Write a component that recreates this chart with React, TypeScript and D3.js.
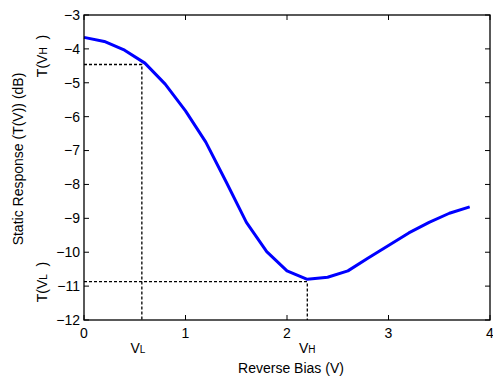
import { useEffect, useRef } from 'react'
import * as d3 from 'd3'

// reverse bias (V) vs static response (dB)
const biasV = [0, 0.2, 0.4, 0.6, 0.8, 1.0, 1.2, 1.4, 1.6, 1.8, 2.0, 2.2, 2.4, 2.6, 2.8, 3.0, 3.2, 3.4, 3.6, 3.8]
const responseDb = [-3.66, -3.78, -4.04, -4.42, -5.04, -5.83, -6.75, -7.92, -9.12, -9.98, -10.55, -10.8, -10.74, -10.55, -10.17, -9.8, -9.43, -9.12, -8.85, -8.66]

const xTicks = [0, 1, 2, 3, 4]
const yTicks = [-3, -4, -5, -6, -7, -8, -9, -10, -11, -12]

// operating points
const vL = 0.57
const vH = 2.2
const tVH = -4.46
const tVL = -10.87

const FONT = 'Liberation Sans, Arial, sans-serif'

export default function App() {
  const svgRef = useRef<SVGSVGElement>(null)

  useEffect(() => {
    if (!svgRef.current) return
    const svg = d3.select(svgRef.current)
    svg.selectAll('*').remove()

    const width = 493
    const height = 381
    const margin = { top: 15, right: 3, bottom: 61, left: 84 }
    const innerW = width - margin.left - margin.right
    const innerH = height - margin.top - margin.bottom

    const x = d3.scaleLinear().domain([0, 4]).range([0, innerW])
    const y = d3.scaleLinear().domain([-12, -3]).range([innerH, 0])

    const g = svg.append('g').attr('transform', `translate(${margin.left},${margin.top})`)

    // dashed guide lines
    const dash = g.append('g')
      .attr('fill', 'none')
      .attr('stroke', '#000')
      .attr('stroke-width', 1.3)
      .attr('stroke-dasharray', '3,2')
    dash.append('path').attr('d', `M${x(0)},${y(tVH)}H${x(vL)}V${y(-12)}`)
    dash.append('path').attr('d', `M${x(0)},${y(tVL)}H${x(vH)}V${y(-12)}`)

    // curve
    const line = d3.line<number>()
      .x((_, i) => x(biasV[i]))
      .y(d => y(d))
    g.append('path')
      .datum(responseDb)
      .attr('d', line)
      .attr('fill', 'none')
      .attr('stroke', '#0000ff')
      .attr('stroke-width', 3)
      .attr('stroke-linejoin', 'round')

    // box + inward ticks on all sides
    g.append('rect')
      .attr('width', innerW)
      .attr('height', innerH)
      .attr('fill', 'none')
      .attr('stroke', '#000')
      .attr('stroke-width', 1.3)

    const tickLen = 5
    const ticks = g.append('g').attr('stroke', '#000').attr('stroke-width', 1)
    xTicks.forEach(t => {
      ticks.append('line').attr('x1', x(t)).attr('x2', x(t)).attr('y1', innerH).attr('y2', innerH - tickLen)
      ticks.append('line').attr('x1', x(t)).attr('x2', x(t)).attr('y1', 0).attr('y2', tickLen)
    })
    yTicks.forEach(t => {
      ticks.append('line').attr('x1', 0).attr('x2', tickLen).attr('y1', y(t)).attr('y2', y(t))
      ticks.append('line').attr('x1', innerW).attr('x2', innerW - tickLen).attr('y1', y(t)).attr('y2', y(t))
    })

    const labels = g.append('g').attr('font-family', FONT).attr('font-size', 14).attr('fill', '#000')
    xTicks.forEach(t => {
      labels.append('text')
        .attr('x', x(t))
        .attr('y', innerH + 18)
        .attr('text-anchor', 'middle')
        .text(String(t))
    })
    yTicks.forEach(t => {
      labels.append('text')
        .attr('x', -4)
        .attr('y', y(t))
        .attr('dy', '0.35em')
        .attr('text-anchor', 'end')
        .text(String(t).replace('-', '\u2212'))
    })

    // V_L, V_H under the axis
    const sub = (sel: d3.Selection<SVGTextElement, unknown, null, undefined>, main: string, s: string, tail = '') => {
      sel.append('tspan').text(main)
      sel.append('tspan').attr('font-size', 10).text(s)
      if (tail) sel.append('tspan').text(tail)
    }
    sub(labels.append('text').attr('x', x(vL) - 4).attr('y', innerH + 33).attr('text-anchor', 'middle'), 'V', 'L')
    sub(labels.append('text').attr('x', x(vH)).attr('y', innerH + 33).attr('text-anchor', 'middle'), 'V', 'H')

    labels.append('text')
      .attr('x', x(2) + 4)
      .attr('y', innerH + 53)
      .attr('text-anchor', 'middle')
      .text('Reverse Bias (V)')

    // rotated y labels
    sub(svg.append('text')
      .attr('font-family', FONT).attr('font-size', 14)
      .attr('text-anchor', 'middle')
      .attr('transform', `translate(47,56) rotate(-90)`), 'T(V', 'H', '\u00a0\u00a0)')
    sub(svg.append('text')
      .attr('font-family', FONT).attr('font-size', 14)
      .attr('text-anchor', 'middle')
      .attr('transform', `translate(47,282) rotate(-90)`), 'T(V', 'L', '\u00a0\u00a0)')
    svg.append('text')
      .attr('font-family', FONT).attr('font-size', 14)
      .attr('text-anchor', 'middle')
      .attr('transform', `translate(23,159) rotate(-90)`)
      .text('Static Response (T(V)) (dB)')
  }, [])

  return (
    <svg
      ref={svgRef}
      width={493}
      height={381}
      style={{ position: 'absolute', left: 0, top: 0, background: '#fff' }}
    />
  )
}
